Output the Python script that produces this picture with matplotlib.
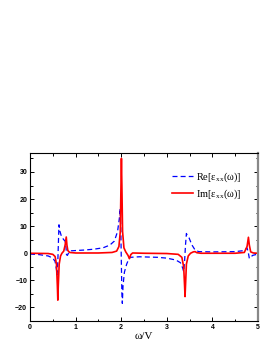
import matplotlib
matplotlib.use("Agg")
import matplotlib.pyplot as plt
from matplotlib.ticker import MultipleLocator

omega_re = [0.00, 0.20, 0.40, 0.50, 0.55, 0.58, 0.595, 0.61, 0.625, 0.635, 0.65, 0.69, 0.74, 0.77,
            0.79, 0.80, 0.82, 0.85, 0.90, 1.00, 1.20, 1.40, 1.60, 1.75, 1.85, 1.92, 1.96, 1.975,
            1.99, 2.00, 2.015, 2.025, 2.04, 2.07, 2.12, 2.17, 2.20, 2.40, 2.80, 3.00, 3.20, 3.30,
            3.35, 3.37, 3.39, 3.41, 3.43, 3.45, 3.49, 3.55, 3.62, 3.70, 4.00, 4.50, 4.70, 4.76,
            4.79, 4.81, 4.84, 4.88, 4.95, 5.00]
re_eps = [-0.3, -0.5, -1.0, -1.8, -3.0, -6.0, -8.0, -3.0, 5.0, 10.5, 8.5, 6.2, 5.0, 4.5,
          2.0, -0.5, -0.8, 0.3, 0.9, 1.0, 1.2, 1.5, 2.0, 3.0, 4.5, 8.0, 13.0, 16.5,
          10.0, 0.0, -15.0, -18.5, -12.0, -7.0, -4.0, -2.0, -1.5, -1.3, -1.5, -1.8, -2.5, -3.5,
          -5.5, -6.8, -3.0, 3.0, 7.3, 6.5, 5.6, 3.1, 1.2, 0.6, 0.5, 0.6, 1.0, 2.0,
          0.0, -1.9, -1.5, -0.8, -0.5, -0.4]

omega_im = [0.00, 0.40, 0.50, 0.55, 0.58, 0.60, 0.61, 0.62, 0.64, 0.67, 0.70, 0.74, 0.77, 0.795,
            0.81, 0.83, 0.87, 1.00, 1.50, 1.80, 1.90, 1.95, 1.98, 1.995, 2.005, 2.015, 2.03,
            2.06, 2.10, 2.15, 2.18, 2.21, 2.25, 2.50, 3.00, 3.25, 3.33, 3.37, 3.39, 3.40, 3.41,
            3.43, 3.47, 3.52, 3.58, 3.62, 3.66, 3.75, 4.50, 4.70, 4.76, 4.79, 4.81, 4.84, 4.90,
            5.00]
im_eps = [0.0, -0.1, -0.4, -1.2, -4.0, -12.0, -17.3, -12.0, -4.0, -1.0, 0.0, 0.8, 3.0, 6.0,
          3.0, 1.0, 0.3, 0.1, 0.1, 0.3, 0.8, 2.5, 8.0, 25.0, 35.0, 25.0, 8.0,
          2.0, 0.5, -0.8, -2.0, -0.5, 0.1, 0.0, -0.1, -0.4, -1.5, -5.0, -12.0, -16.0, -12.0,
          -4.0, -1.0, 0.0, 0.5, 0.6, 0.2, 0.0, 0.0, 0.3, 2.5, 5.9, 3.0, 0.5, 0.1,
          0.0]

re_label = r"Re[ε$_{\mathregular{xx}}$(ω)]"
im_label = r"Im[ε$_{\mathregular{xx}}$(ω)]"

fig = plt.figure(figsize=(2.72, 3.52), dpi=100)
ax = fig.add_axes([30/272, 31/352, 228/272, 168/352])

ax.plot(omega_re, re_eps, color="#0000ff", lw=0.9, ls=(0, (4, 2.5)), label=re_label)
ax.plot(omega_im, im_eps, color="#ff0000", lw=1.2, label=im_label)

ax.set_xlim(0, 5)
ax.set_ylim(-25, 37)
ax.xaxis.set_major_locator(MultipleLocator(1))
ax.xaxis.set_minor_locator(MultipleLocator(0.5))
ax.yaxis.set_major_locator(MultipleLocator(10))
ax.yaxis.set_minor_locator(MultipleLocator(5))
ax.tick_params(which="both", direction="in", top=True, right=True, width=0.7)
ax.tick_params(which="major", length=3, labelsize=5, pad=2)
ax.tick_params(which="minor", length=1.8)
for lab in ax.get_xticklabels() + ax.get_yticklabels():
    lab.set_fontweight("bold")
    lab.set_family("Liberation Sans")
for s in ["left", "top", "bottom"]:
    ax.spines[s].set_linewidth(0.8)
ax.spines["right"].set_linewidth(1.6)
ax.spines["right"].set_color("#888888")

ax.set_xlabel("ω/V", family="Liberation Serif", fontsize=8, labelpad=1)

leg = ax.legend(loc="upper left", bbox_to_anchor=(0.605, 0.92), frameon=False,
                prop={"family": "Liberation Serif", "size": 7.5}, handlelength=2.0,
                handletextpad=0.25, labelspacing=0.35, borderaxespad=0)

fig.savefig("out.png", dpi=100)
